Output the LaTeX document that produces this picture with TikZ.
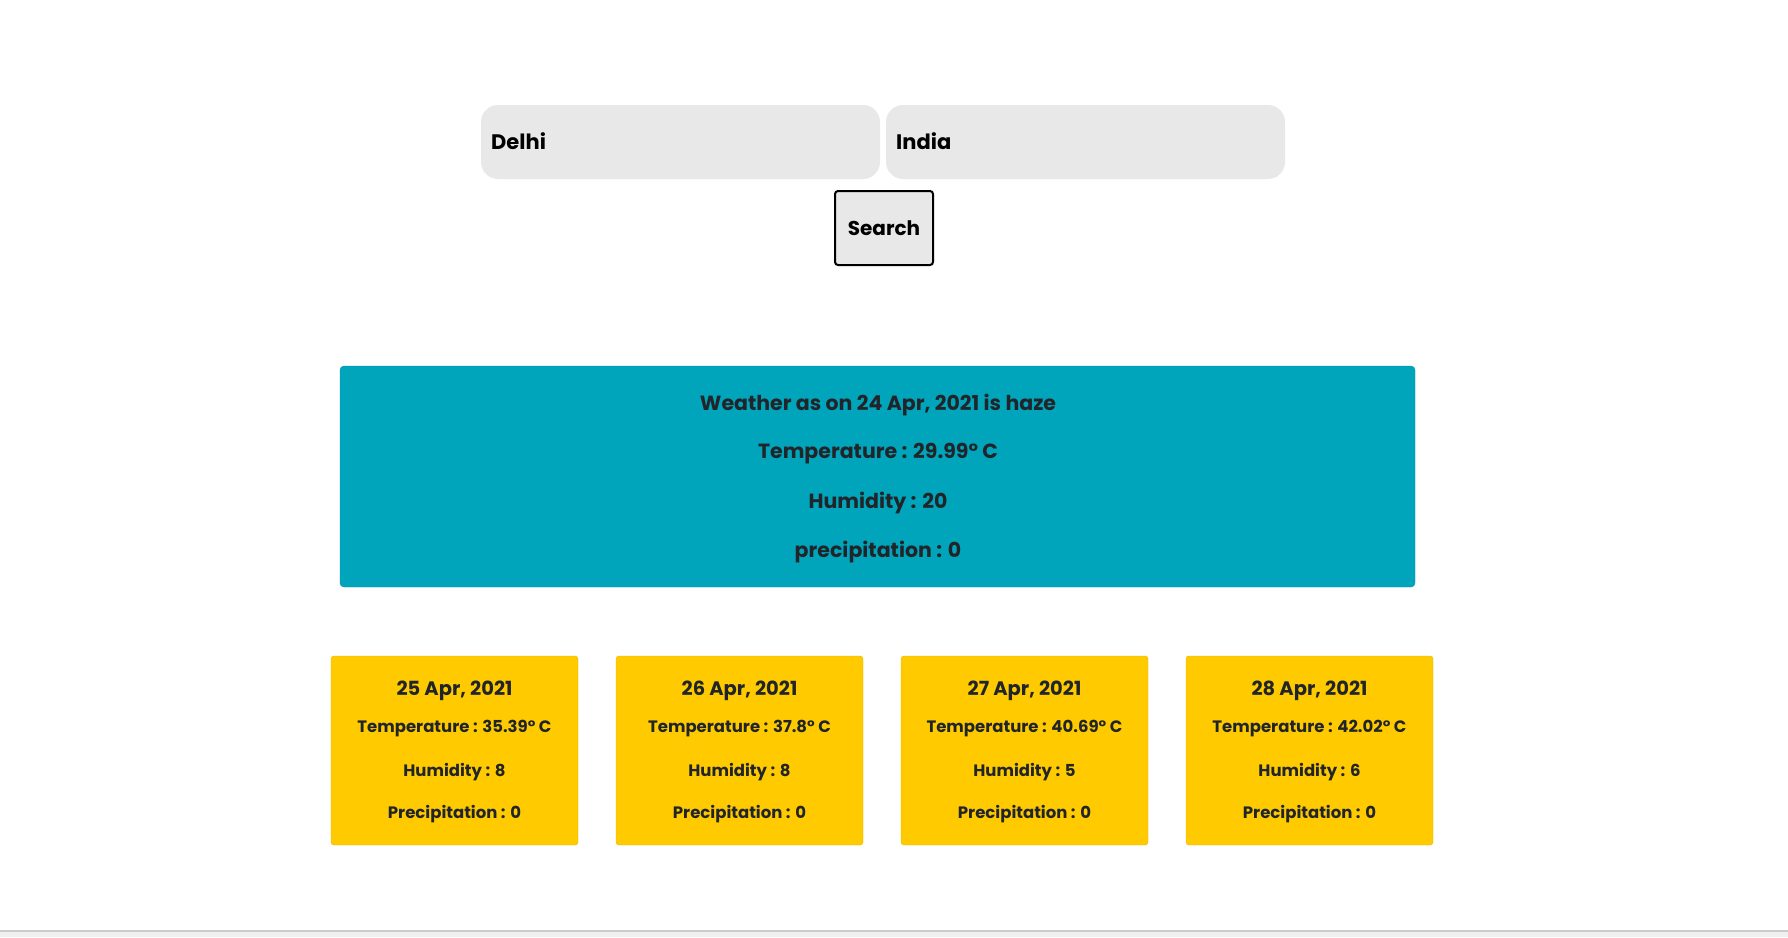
\documentclass[tikz,border=0pt]{standalone}
\usepackage{fontspec}
\setmainfont{Poppins}
\definecolor{inputgray}{HTML}{E8E8E8}
\definecolor{tealbox}{HTML}{00A5BC}
\definecolor{tealedge}{HTML}{0090A6}
\definecolor{cardyellow}{HTML}{FFCB00}
\definecolor{cardedge}{HTML}{E6B400}
\definecolor{textdark}{HTML}{212529}
\tikzset{
  inputbox/.style={fill=inputgray, rounded corners=17pt, minimum width=399pt, minimum height=74pt},
  inputtext/.style={anchor=west, inner sep=0pt, font=\fontsize{21}{24}\selectfont\bfseries},
  searchbtn/.style={draw=black, line width=2pt, fill=inputgray, rounded corners=3pt,
    minimum width=98pt, minimum height=74pt, font=\fontsize{20}{24}\selectfont\bfseries},
  todaybox/.style={draw=tealedge, fill=tealbox, rounded corners=4pt, minimum width=1075pt, minimum height=221pt},
  todaytext/.style={text=textdark, inner sep=0pt, font=\fontsize{20.5}{24}\selectfont\bfseries},
  card/.style={draw=cardedge, fill=cardyellow, rounded corners=3pt, minimum width=247pt, minimum height=189pt},
  datetext/.style={text=textdark, inner sep=0pt, font=\fontsize{19.5}{22}\selectfont\bfseries},
  cardtext/.style={text=textdark, inner sep=0pt, font=\fontsize{16.5}{20}\selectfont\bfseries}
}
\begin{document}
\begin{tikzpicture}[x=1pt,y=-1pt]
  \useasboundingbox (0,0) rectangle (1788,937);
  % search form
  \node[inputbox] (city) at (680.5,142) {};
  \node[inputbox] (country) at (1085.5,142) {};
  \node[inputtext] (citytext) at (491,141) {Delhi};
  \node[inputtext] (countrytext) at (896,141) {India};
  \node[searchbtn] (search) at (884,228) {Search};
  % today
  \node[todaybox] (today) at (877.5,476.5) {};
  \node[todaytext] (weather) at (878,405) {Weather as on 24 Apr, 2021 is haze};
  \node[todaytext] (temp) at (878,454) {Temperature : 29.99° C};
  \node[todaytext] (hum) at (878,503) {Humidity : 20};
  \node[todaytext] (prec) at (878,552) {precipitation : 0};
  % forecast cards
  \node[card] (day1) at (454.5,750.5) {};
  \node[card] (day2) at (739.5,750.5) {};
  \node[card] (day3) at (1024.5,750.5) {};
  \node[card] (day4) at (1309.5,750.5) {};
  \node[datetext] (day1date) at (454.5,691) {25 Apr, 2021};
  \node[cardtext] (day1temp) at (454.5,729) {Temperature : 35.39° C};
  \node[cardtext] (day1hum) at (454.5,772) {Humidity : 8};
  \node[cardtext] (day1prec) at (454.5,814) {Precipitation : 0};
  \node[datetext] (day2date) at (739.5,691) {26 Apr, 2021};
  \node[cardtext] (day2temp) at (739.5,729) {Temperature : 37.8° C};
  \node[cardtext] (day2hum) at (739.5,772) {Humidity : 8};
  \node[cardtext] (day2prec) at (739.5,814) {Precipitation : 0};
  \node[datetext] (day3date) at (1024.5,691) {27 Apr, 2021};
  \node[cardtext] (day3temp) at (1024.5,729) {Temperature : 40.69° C};
  \node[cardtext] (day3hum) at (1024.5,772) {Humidity : 5};
  \node[cardtext] (day3prec) at (1024.5,814) {Precipitation : 0};
  \node[datetext] (day4date) at (1309.5,691) {28 Apr, 2021};
  \node[cardtext] (day4temp) at (1309.5,729) {Temperature : 42.02° C};
  \node[cardtext] (day4hum) at (1309.5,772) {Humidity : 6};
  \node[cardtext] (day4prec) at (1309.5,814) {Precipitation : 0};
  % page bottom
  \fill[black!6] (0,931) rectangle (1788,937);
  \draw[black!20, line width=1.5pt] (0,931) -- (1788,931);
\end{tikzpicture}
\end{document}
